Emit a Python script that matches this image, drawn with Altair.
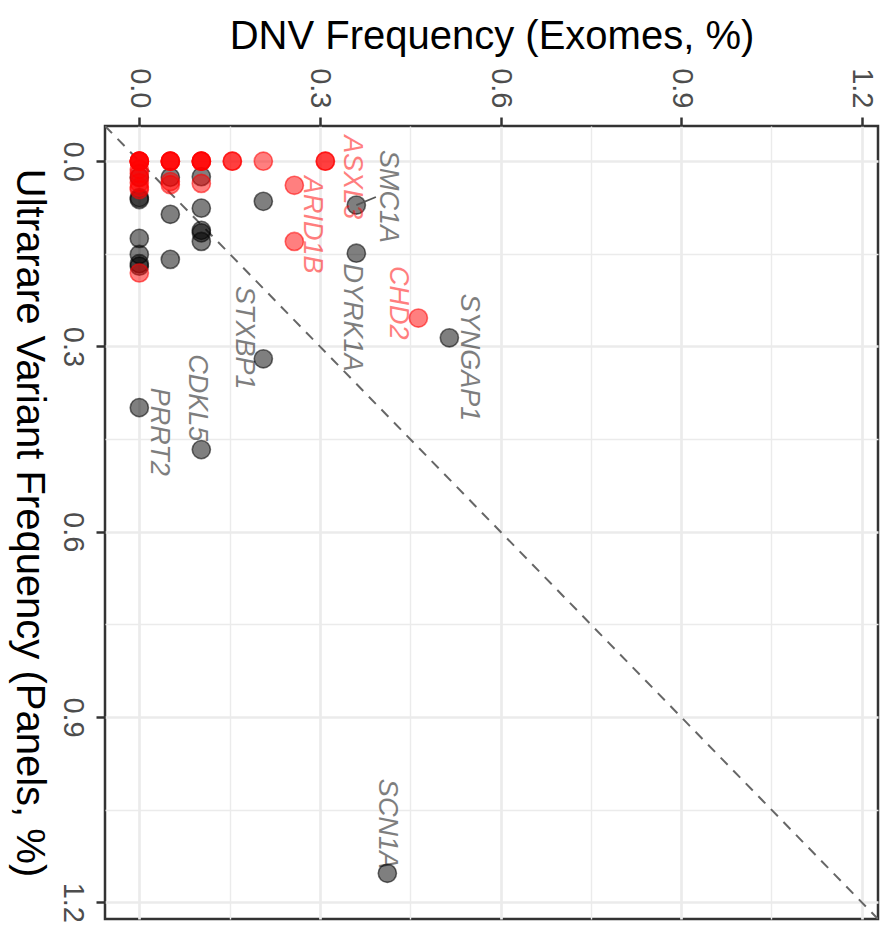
import altair as alt
import pandas as pd

# ---------------- data ----------------
# grey (other genes)
grey_x = [0, 0, 0, 0, 0, 0, 0, 0,
          0.0515, 0.0515, 0.0515,
          0.103, 0.103, 0.103, 0.103, 0.103, 0.103,
          0.206, 0.206, 0.3605, 0.3605, 0.515, 0.412]
grey_y = [0.026, 0.059, 0.062, 0.125, 0.151, 0.166, 0.170, 0.399,
          0.026, 0.086, 0.159,
          0.025, 0.076, 0.112, 0.116, 0.130, 0.467,
          0.065, 0.320, 0.071, 0.149, 0.286, 1.153]
# red genes
red_x = [0, 0, 0, 0, 0, 0, 0, 0, 0, 0, 0, 0,
         0.0515, 0.0515, 0.0515, 0.0515, 0.0515, 0.0515,
         0.103, 0.103, 0.103, 0.103, 0.103,
         0.1545, 0.1545, 0.206, 0.309, 0.309,
         0.2575, 0.2575, 0.4635]
red_y = [0, 0, 0, 0, 0, 0.013, 0.020, 0.027, 0.035, 0.042, 0.046, 0.181,
         0, 0, 0, 0, 0.033, 0.038,
         0, 0, 0, 0, 0.036,
         0, 0, 0, 0, 0,
         0.039, 0.130, 0.254]

# gene labels (label positions as placed by the repel layout)
genes = ["ASXL3", "ARID1B", "SMC1A", "DYRK1A", "CHD2", "SYNGAP1",
         "STXBP1", "CDKL5", "PRRT2", "SCN1A"]
gene_grp = ["red", "red", "grey", "grey", "red", "grey",
            "grey", "grey", "grey", "grey"]
label_x = [0.353, 0.287, 0.413, 0.353, 0.430, 0.548, 0.174, 0.096, 0.033, 0.412]
label_y = [0.026, 0.103, 0.057, 0.253, 0.229, 0.318, 0.286, 0.383, 0.438, 1.073]

# repel segment (SMC1A)
seg_x = [0.3605]
seg_y = [0.071]
seg_x2 = [0.393]
seg_y2 = [0.058]

DOMAIN = [-0.057, 1.227]
tick_vals = [0, 0.15, 0.3, 0.45, 0.6, 0.75, 0.9, 1.05, 1.2]

# ---------------- frames ----------------
pts = pd.DataFrame({
    "x": grey_x + red_x,
    "y": grey_y + red_y,
    "grp": ["grey"] * len(grey_x) + ["red"] * len(red_x),
})
labs = pd.DataFrame({"x": label_x, "y": label_y, "gene": genes, "grp": gene_grp})
segs = pd.DataFrame({"x": seg_x, "y": seg_y, "x2": seg_x2, "y2": seg_y2})
diag = pd.DataFrame({"x": DOMAIN, "y": DOMAIN})

FONT = "Liberation Sans"
major = "abs(datum.value/0.3 - round(datum.value/0.3)) < 0.01"

xaxis = alt.Axis(
    orient="top", values=tick_vals, format=".1f",
    labelExpr=f"({major}) ? datum.label : ''",
    labelAngle=90, labelAlign="right", labelBaseline="middle",
    labelFontSize=29, labelColor="#4D4D4D", labelFont=FONT, labelPadding=9,
    labelOverlap=False, labelFlush=False,
    tickSize=9, tickWidth=2.5, tickColor="#333333",
    tickOpacity={"condition": {"test": major, "value": 1}, "value": 0},
    grid=True, gridColor="#EBEBEB",
    gridWidth={"condition": {"test": major, "value": 2.7}, "value": 1.4},
    domain=False,
    title="DNV Frequency (Exomes, %)", titleFont=FONT, titleFontSize=40,
    titleFontWeight="normal", titleColor="black",
    titleX=386.5, titleY=-78, titleAlign="center", titleBaseline="alphabetic",
    titleAngle=0,
)
yaxis = alt.Axis(
    orient="left", values=tick_vals, format=".1f",
    labelExpr=f"({major}) ? datum.label : ''",
    labelAngle=90, labelAlign="center", labelBaseline="top",
    labelFontSize=29, labelColor="#4D4D4D", labelFont=FONT, labelPadding=10,
    labelOverlap=False, labelFlush=False,
    tickSize=9, tickWidth=2.5, tickColor="#333333",
    tickOpacity={"condition": {"test": major, "value": 1}, "value": 0},
    grid=True, gridColor="#EBEBEB",
    gridWidth={"condition": {"test": major, "value": 2.7}, "value": 1.4},
    domain=False,
    title="Ultrarare Variant Frequency (Panels, %)", titleFont=FONT, titleFontSize=40,
    titleFontWeight="normal", titleColor="black",
    titleX=-77, titleY=396.5, titleAlign="center", titleBaseline="middle",
    titleAngle=90,
)

xs = alt.Scale(domain=DOMAIN, nice=False, zero=False)
ys = alt.Scale(domain=DOMAIN, nice=False, zero=False, reverse=True)
X = alt.X("x:Q", scale=xs, axis=xaxis)
Y = alt.Y("y:Q", scale=ys, axis=yaxis)
col_scale = alt.Scale(domain=["grey", "red"], range=["#000000", "#FF0000"])

diag_line = alt.Chart(diag).mark_line(
    color="#666666", strokeWidth=2, strokeDash=[10, 8], clip=True
).encode(x=X, y=Y)

points = alt.Chart(pts).mark_circle(
    size=330, fillOpacity=0.5, strokeOpacity=0.55, strokeWidth=1.6
).encode(
    x=X, y=Y,
    color=alt.Color("grp:N", scale=col_scale, legend=None),
    stroke=alt.Stroke("grp:N", scale=col_scale, legend=None),
)

segments = alt.Chart(segs).mark_rule(color="#555555", strokeWidth=1.8).encode(
    x=X, y=Y, x2="x2:Q", y2="y2:Q"
)

texts = alt.Chart(labs).mark_text(
    angle=90, align="center", baseline="middle", fontSize=27,
    font=FONT, fontStyle="italic", opacity=0.5
).encode(
    x=X, y=Y, text="gene:N",
    color=alt.Color("grp:N", scale=col_scale, legend=None),
)

chart = alt.layer(diag_line, points, segments, texts).properties(
    width=773, height=793,
    autosize=alt.AutoSizeParams(type="none"),
    padding={"left": 105, "top": 126, "right": 2, "bottom": 11},
    background="white",
).configure_view(stroke="#333333", strokeWidth=2.5)

chart.save("out.html", embed_options={"renderer": "svg", "actions": False})
